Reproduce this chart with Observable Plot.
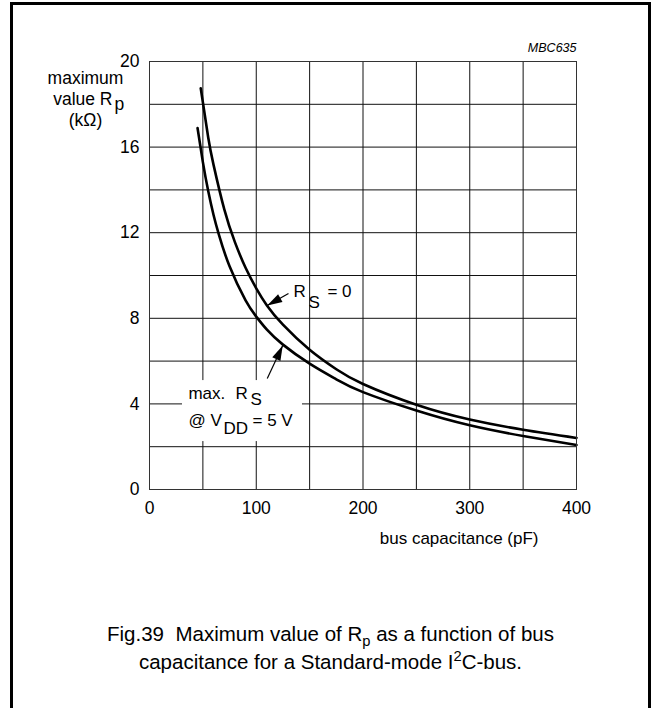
<!DOCTYPE html>
<html><head><meta charset="utf-8">
<script src="https://cdn.jsdelivr.net/npm/d3@7"></script>
<script src="https://cdn.jsdelivr.net/npm/@observablehq/plot@0.6"></script>
<style>
body{margin:0;background:#fff;font-family:"Liberation Sans",Arial,sans-serif;}
#wrap{position:relative;width:652px;height:708px;overflow:hidden;background:#fff;}
#frame{position:absolute;left:10px;top:2px;width:641px;height:730px;border:3px solid #000;box-sizing:border-box;pointer-events:none;}
#chart{position:absolute;left:0;top:0;}
#caption{position:absolute;left:10px;width:641px;top:620px;text-align:center;font-size:20.5px;line-height:28px;color:#000;}
#caption sub,#caption sup{font-size:0.72em;line-height:0;}
</style></head><body>
<div id="wrap">
<div id="chart"></div>
<div id="caption">Fig.39&nbsp; Maximum value of R<sub>p</sub> as a function of bus<br>capacitance for a Standard-mode I<sup>2</sup>C-bus.</div>
<div id="frame"></div>
</div>
<script>
// ---- data ----
const xTicks = [0, 100, 200, 300, 400];
const yTicks = [0, 4, 8, 12, 16, 20];
const xGrid = [0, 50, 100, 150, 200, 250, 300, 350, 400];
const yGrid = [0, 2, 4, 6, 8, 10, 12, 14, 16, 18, 20];
// curve "RS = 0"
const capRs0 = [48, 55, 60, 70, 80, 90, 100, 110, 125, 150, 175, 200, 250, 300, 350, 400];
const rpRs0  = [18.75, 16.45, 15.17, 13.1, 11.56, 10.36, 9.4, 8.6, 7.7, 6.53, 5.62, 4.93, 3.96, 3.27, 2.79, 2.41];
// curve "max. RS @ VDD = 5 V"
const capRsMax = [45, 50, 55, 60, 65, 75, 90, 100, 110, 125, 150, 175, 200, 250, 300, 350, 400];
const rpRsMax  = [16.89, 15.3, 13.95, 12.83, 11.91, 10.43, 8.84, 8.08, 7.47, 6.77, 5.88, 5.15, 4.55, 3.69, 3.0, 2.5, 2.08];

const seriesRs0 = capRs0.map((c, i) => ({c, r: rpRs0[i]}));
const seriesRsMax = capRsMax.map((c, i) => ({c, r: rpRsMax[i]}));

// ---- layout ----
const W = 652, H = 600, ML = 149, MR = 76, MT = 61, MB = H - 489;
const kx = (W - ML - MR) / 400, ky = (H - MT - MB) / 20;
const FONT = "'Liberation Sans', Arial, Helvetica, sans-serif";
const FS = 17;

// annotation arrows (data units)
const arrows = [
  {x1: 130.2, y1: 9.16, x2: 110.3, y2: 8.6},
  {x1: 110.3, y1: 5.19, x2: 124.8, y2: 6.73}
];
arrows.forEach(a => { a.angle = Math.atan2(-(a.y2 - a.y1) * ky, (a.x2 - a.x1) * kx) * 180 / Math.PI; });
const arrowHead = {draw(ctx) { ctx.moveTo(0, 0); ctx.lineTo(-15, -4.5); ctx.lineTo(-15, 4.5); ctx.closePath(); }};

const labels = [
  {x: 134.9, y: 9.25, t: "R"}, {x: 148.9, y: 8.75, t: "S"}, {x: 166.7, y: 9.25, t: "= 0"},
  {x: 36.5, y: 4.49, t: "max."}, {x: 80.6, y: 4.49, t: "R"}, {x: 94.6, y: 4.2, t: "S"},
  {x: 36.5, y: 3.22, t: "@ V"}, {x: 69.3, y: 2.85, t: "DD"}, {x: 96.5, y: 3.22, t: "= 5 V"}
];

const plot = Plot.plot({
  width: W, height: H,
  marginLeft: ML, marginRight: MR, marginTop: MT, marginBottom: MB,
  style: {fontFamily: FONT, fontSize: "17.5px", color: "#000", background: "transparent"},
  x: {domain: [0, 400], ticks: xTicks, tickSize: 0, tickPadding: 12, label: null},
  y: {domain: [0, 20], ticks: yTicks, tickSize: 0, tickPadding: 10, label: null},
  marks: [
    Plot.ruleX(xGrid, {stroke: "#111", strokeWidth: 1}),
    Plot.ruleY(yGrid, {stroke: "#111", strokeWidth: 1}),
    Plot.rect([{x1: 30.9, x2: 143.3, y1: 2.24, y2: 5.09}], {x1: "x1", x2: "x2", y1: "y1", y2: "y2", fill: "white"}),
    Plot.line(seriesRs0, {x: "c", y: "r", stroke: "#000", strokeWidth: 2.6, curve: "natural"}),
    Plot.line(seriesRsMax, {x: "c", y: "r", stroke: "#000", strokeWidth: 2.6, curve: "natural"}),
    Plot.link(arrows, {x1: "x1", y1: "y1", x2: "x2", y2: "y2", stroke: "#000", strokeWidth: 1.2}),
    Plot.dot(arrows, {x: "x2", y: "y2", symbol: arrowHead, fill: "#000", stroke: "none", rotate: "angle"}),
    Plot.text(labels, {x: "x", y: "y", text: "t", textAnchor: "start", fontSize: FS, fill: "#000"}),
    // y-axis title
    Plot.text(["maximum"], {frameAnchor: "top-left", textAnchor: "middle", lineAnchor: "middle", dx: -64, dy: 17, fontSize: 17.5}),
    Plot.text(["value R"], {frameAnchor: "top-left", textAnchor: "end", lineAnchor: "middle", dx: -37, dy: 38, fontSize: 17.5}),
    Plot.text(["p"], {frameAnchor: "top-left", textAnchor: "start", lineAnchor: "middle", dx: -35, dy: 43, fontSize: 17.5}),
    Plot.text(["(kΩ)"], {frameAnchor: "top-left", textAnchor: "middle", lineAnchor: "middle", dx: -64, dy: 59, fontSize: 17.5}),
    // x-axis title
    Plot.text(["bus capacitance (pF)"], {frameAnchor: "bottom-right", textAnchor: "end", lineAnchor: "middle", dx: -38, dy: 49, fontSize: FS}),
    // code
    Plot.text(["MBC635"], {frameAnchor: "top-right", textAnchor: "end", lineAnchor: "middle", dx: 0, dy: -14, fontSize: 12.5, fontStyle: "italic"}),
    Plot.frame({stroke: "#333", strokeWidth: 1})
  ]
});
document.getElementById("chart").appendChild(plot);
</script>
</body></html>
